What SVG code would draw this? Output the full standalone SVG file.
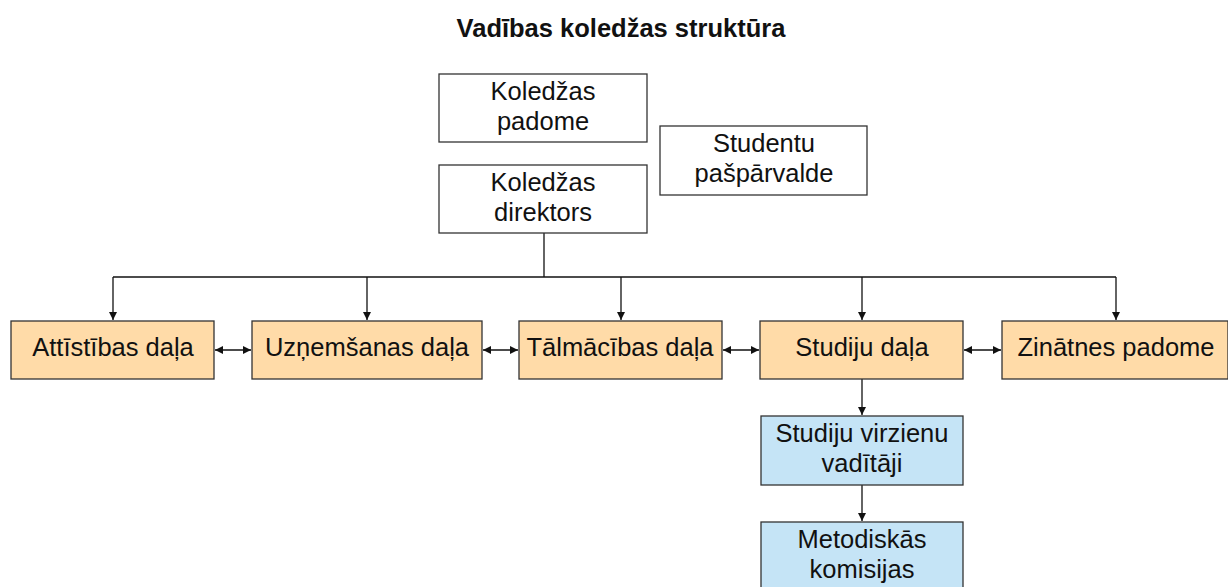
<svg xmlns="http://www.w3.org/2000/svg" width="1228" height="587" viewBox="0 0 1228 587">
<defs>
<style>
.box{stroke:#333;stroke-width:1.3}
.w{fill:#fff}
.o{fill:#ffdba8}
.b{fill:#c5e4f6}
text{font-family:"Liberation Sans",Arial,sans-serif;font-size:25.5px;fill:#111;text-anchor:middle}
.title{font-weight:bold;font-size:25.5px}
.c{stroke:#111;stroke-width:1.3;fill:none}
</style>
<marker id="ah" viewBox="0 0 10 10" refX="10" refY="5" markerWidth="8" markerHeight="10" markerUnits="userSpaceOnUse" orient="auto-start-reverse">
<path d="M0,0 L10,5 L0,10 z" fill="#111"/>
</marker>
</defs>
<rect width="1228" height="587" fill="#fff"/>
<text class="title" x="621" y="37">Vadības koledžas struktūra</text>
<g id="connectors">
<path class="c" d="M544,233 V277"/>
<path class="c" d="M113,277 H1116"/>
<path class="c" d="M113,277 V320" marker-end="url(#ah)"/>
<path class="c" d="M367,277 V320" marker-end="url(#ah)"/>
<path class="c" d="M621,277 V320" marker-end="url(#ah)"/>
<path class="c" d="M862,277 V320" marker-end="url(#ah)"/>
<path class="c" d="M1116,277 V320" marker-end="url(#ah)"/>
<path class="c" d="M215,350 H251" marker-start="url(#ah)" marker-end="url(#ah)"/>
<path class="c" d="M483,350 H518" marker-start="url(#ah)" marker-end="url(#ah)"/>
<path class="c" d="M723,350 H759" marker-start="url(#ah)" marker-end="url(#ah)"/>
<path class="c" d="M964,350 H1001" marker-start="url(#ah)" marker-end="url(#ah)"/>
<path class="c" d="M862,379 V415" marker-end="url(#ah)"/>
<path class="c" d="M862,485 V521" marker-end="url(#ah)"/>
</g>
<g id="koledzas-padome">
<rect class="box w" x="439" y="74" width="208" height="68"/>
<text x="543" y="100">Koledžas</text>
<text x="543" y="130">padome</text>
</g>
<g id="koledzas-direktors">
<rect class="box w" x="439" y="165" width="208" height="68"/>
<text x="543" y="191">Koledžas</text>
<text x="543" y="221">direktors</text>
</g>
<g id="studentu-pasparvalde">
<rect class="box w" x="660" y="126" width="207" height="69"/>
<text x="764" y="152">Studentu</text>
<text x="764" y="182">pašpārvalde</text>
</g>
<g id="attistibas-dala">
<rect class="box o" x="11" y="321" width="203" height="58"/>
<text x="113" y="356">Attīstības daļa</text>
</g>
<g id="uznemsanas-dala">
<rect class="box o" x="252" y="321" width="230" height="58"/>
<text x="367" y="356">Uzņemšanas daļa</text>
</g>
<g id="talmacibas-dala">
<rect class="box o" x="519" y="321" width="203" height="58"/>
<text x="620" y="356">Tālmācības daļa</text>
</g>
<g id="studiju-dala">
<rect class="box o" x="760" y="321" width="203" height="58"/>
<text x="862" y="356">Studiju daļa</text>
</g>
<g id="zinatnes-padome">
<rect class="box o" x="1002" y="321" width="226" height="58"/>
<text x="1116" y="356">Zinātnes padome</text>
</g>
<g id="studiju-virzienu-vaditaji">
<rect class="box b" x="761" y="416" width="202" height="69"/>
<text x="862" y="442">Studiju virzienu</text>
<text x="862" y="472">vadītāji</text>
</g>
<g id="metodiskas-komisijas">
<rect class="box b" x="761" y="522" width="202" height="69"/>
<text x="862" y="548">Metodiskās</text>
<text x="862" y="578">komisijas</text>
</g>
</svg>
